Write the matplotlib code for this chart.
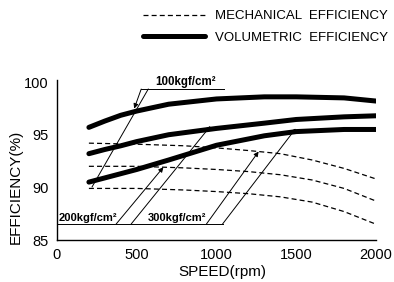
import numpy as np
import matplotlib
matplotlib.use('Agg')
import matplotlib.pyplot as plt

plt.rcParams['font.family'] = ['Liberation Sans', 'DejaVu Sans']

# volumetric efficiency (thick solid lines)
rpm_vol = [200, 300, 400, 500, 700, 1000, 1300, 1500, 1800, 2000]
vol_100 = [95.7, 96.3, 96.85, 97.25, 97.9, 98.4, 98.6, 98.6, 98.5, 98.2]
vol_200 = [93.2, 93.6, 93.95, 94.35, 95.0, 95.6, 96.1, 96.45, 96.7, 96.8]
vol_300 = [90.5, 90.9, 91.3, 91.7, 92.6, 94.0, 94.9, 95.3, 95.5, 95.5]

# mechanical efficiency (dashed lines)
rpm_mech = [200, 500, 800, 1000, 1200, 1400, 1600, 1800, 1900, 2000]
mech_300 = [94.2, 94.1, 93.95, 93.75, 93.5, 93.2, 92.6, 91.8, 91.3, 90.8]
mech_200 = [92.0, 92.0, 91.85, 91.7, 91.5, 91.2, 90.7, 89.9, 89.3, 88.7]
mech_100 = [89.9, 89.9, 89.75, 89.6, 89.4, 89.1, 88.6, 87.7, 87.1, 86.5]

pressure_labels = ['100kgf/cm²', '200kgf/cm²', '300kgf/cm²']

fig = plt.figure(figsize=(3.94, 2.82), dpi=100)
ax = fig.add_axes([57/394, 1 - 240/282, 319/394, 160/282])

dash = (4, 2.5)
for m in [mech_300, mech_200, mech_100]:
    mech_line, = ax.plot(rpm_mech, m, color='black', lw=0.9, dashes=dash)
for v in [vol_100, vol_200, vol_300]:
    vol_line, = ax.plot(rpm_vol, v, color='black', lw=3.6, solid_capstyle='round')

ax.set_xlim(0, 2000)
ax.set_ylim(85, 100.2)
ax.set_xticks([0, 500, 1000, 1500, 2000])
ax.set_yticks([85, 90, 95, 100])
ax.tick_params(length=0, labelsize=10.5)
ax.tick_params(axis='x', pad=6)
ax.tick_params(axis='y', pad=6)
for s in ['top', 'right']:
    ax.spines[s].set_visible(False)
for s in ['left', 'bottom']:
    ax.spines[s].set_linewidth(1.0)

ax.set_xlabel('SPEED(rpm)', fontsize=11, va='center')
ax.set_ylabel('EFFICIENCY(%)', fontsize=11, va='center')
ax.xaxis.set_label_coords(0.517, -0.2)
ax.yaxis.set_label_coords(-0.13, 0.33)

# leader lines for the pressure labels
thin = dict(color='black', lw=0.7)
arrow = dict(arrowstyle='-|>', color='black', lw=0.7, mutation_scale=7, shrinkA=0, shrinkB=0)

# 100kgf/cm2
ytop = 99.34
ax.plot([528, 1044], [ytop, ytop], **thin)
ax.text(616, ytop + 0.12, pressure_labels[0], fontsize=8.3, fontweight='bold', va='bottom')
ax.annotate('', xy=(484, np.interp(484, rpm_vol, vol_100) + 0.3), xytext=(528, ytop), arrowprops=arrow)
ax.plot([572, 220], [ytop, np.interp(220, rpm_mech, mech_100) + 0.15], **thin)

# 200 / 300 kgf/cm2
ybot = 86.52
ax.plot([0, 1038], [ybot, ybot], **thin)
ax.text(8, ybot + 0.12, pressure_labels[1], fontsize=8, fontweight='bold', va='bottom')
ax.text(572, ybot + 0.12, pressure_labels[2], fontsize=8, fontweight='bold', va='bottom')
ax.annotate('', xy=(667, np.interp(667, rpm_mech, mech_200)), xytext=(371, ybot), arrowprops=arrow)
ax.annotate('', xy=(962, np.interp(962, rpm_vol, vol_200) + 0.3), xytext=(465, ybot), arrowprops=arrow)
ax.annotate('', xy=(1264, np.interp(1264, rpm_mech, mech_300)), xytext=(937, ybot), arrowprops=arrow)
ax.annotate('', xy=(1497, np.interp(1497, rpm_vol, vol_300) + 0.3), xytext=(1038, ybot), arrowprops=arrow)

fig.legend([mech_line, vol_line],
           ['MECHANICAL  EFFICIENCY', 'VOLUMETRIC  EFFICIENCY'],
           loc='upper left', bbox_to_anchor=(143/394, 1 - 10/282),
           frameon=False, fontsize=9.5, handlelength=4.7, handletextpad=0.75,
           labelspacing=0.72, borderpad=0, borderaxespad=0)

fig.savefig('out.png', dpi=100)
